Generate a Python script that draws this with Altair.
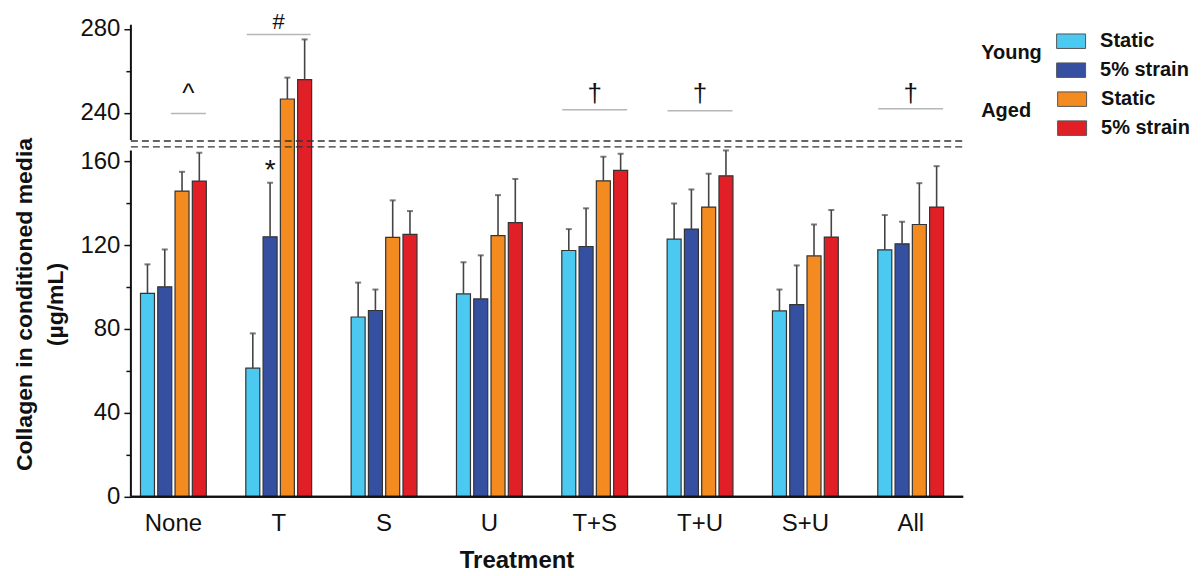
import altair as alt
import pandas as pd

# ---------------- data ----------------
GROUPS = ["None", "T", "S", "U", "T+S", "T+U", "S+U", "All"]
SERIES = ["Young Static", "Young 5% strain", "Aged Static", "Aged 5% strain"]
AGES = ["Young", "Young", "Aged", "Aged"]
STRAINS = ["Static", "5% strain", "Static", "5% strain"]

YOUNG_STATIC = [97.0, 61.3, 85.7, 96.7, 117.4, 122.8, 88.6, 117.7]
YOUNG_STATIC_SD = [13.8, 16.6, 16.4, 15.1, 10.2, 17.0, 10.2, 16.6]
YOUNG_STRAIN = [100.1, 123.9, 88.8, 94.3, 119.3, 127.6, 91.6, 120.6]
YOUNG_STRAIN_SD = [17.8, 25.8, 10.0, 20.8, 18.2, 18.9, 18.7, 10.5]
AGED_STATIC = [145.7, 246.6, 123.7, 124.5, 150.6, 138.1, 114.8, 129.8]
AGED_STATIC_SD = [9.2, 10.2, 17.6, 19.3, 11.5, 15.9, 15.0, 19.7]
AGED_STRAIN = [150.5, 255.8, 125.1, 130.7, 155.6, 153.0, 123.8, 138.1]
AGED_STRAIN_SD = [13.5, 19.2, 11.1, 20.8, 7.9, 12.1, 12.9, 19.5]

# broken y axis: lower 0..165, upper 227..282
LOWER_MAX = 165
UPPER_MIN = 227
UPPER_MAX = 282
GAP = 5
OFFSET = UPPER_MIN - LOWER_MAX - GAP  # 57
THRESH = 196
Y_TICKS = [0, 20, 40, 60, 80, 100, 120, 140, 160, 240, 260, 280]
BREAK_LINES = [LOWER_MAX + 1.8, LOWER_MAX + 4.6]

# significance annotations
HASH_GROUPS = ["T"]
HASH_LINE = [277.3]
HASH_TEXT = [283.2]
DAGGER_GROUPS = ["T+S", "T+U", "All"]
DAGGER_LINE = [241.5, 241.0, 242.0]
DAGGER_TEXT = [249.2, 249.2, 249.2]
CARET_GROUPS = ["None"]
CARET_LINE = [239.7]
CARET_TEXT = [248.8]
STAR_GROUPS = ["T"]
STAR_SERIES = ["Young 5% strain"]
STAR_TEXT = [155.5]

LIGHT_BLUE = "#4CC9F1"
DARK_BLUE = "#3550A1"
ORANGE = "#F48B20"
RED = "#E11F27"
FONT = "Liberation Sans"


def disp(v):
    return v - OFFSET if v > THRESH else v


# ---------------- tables ----------------
rows = []
means = [YOUNG_STATIC, YOUNG_STRAIN, AGED_STATIC, AGED_STRAIN]
sds = [YOUNG_STATIC_SD, YOUNG_STRAIN_SD, AGED_STATIC_SD, AGED_STRAIN_SD]
for s, age, strain, m, sd in zip(SERIES, AGES, STRAINS, means, sds):
    for g, mv, sv in zip(GROUPS, m, sd):
        rows.append(dict(group=g, series=s, age=age, strain=strain,
                         d_mean=disp(mv), d_top=disp(mv + sv)))
bars = pd.DataFrame(rows)

axis_seg = pd.DataFrame({"d0": [disp(0), disp(UPPER_MIN)],
                         "d1": [disp(LOWER_MAX), disp(UPPER_MAX)]})
breaks = pd.DataFrame({"d": BREAK_LINES})
hash_df = pd.DataFrame({"group": HASH_GROUPS, "line": [disp(v) for v in HASH_LINE],
                        "txt": [disp(v) for v in HASH_TEXT]})
dag_df = pd.DataFrame({"group": DAGGER_GROUPS, "line": [disp(v) for v in DAGGER_LINE],
                       "txt": [disp(v) for v in DAGGER_TEXT]})
car_df = pd.DataFrame({"group": CARET_GROUPS, "line": [disp(v) for v in CARET_LINE],
                       "txt": [disp(v) for v in CARET_TEXT]})
star_df = pd.DataFrame({"group": STAR_GROUPS, "series": STAR_SERIES,
                        "txt": [disp(v) for v in STAR_TEXT]})

# ---------------- scales & axes ----------------
D_TOP = 228.1
yscale = alt.Scale(domain=[0, D_TOP], nice=False, zero=True)
xscale = alt.Scale(domain=GROUPS, paddingInner=0.375, paddingOuter=0.091)
xoff_scale = alt.Scale(domain=SERIES, paddingInner=0.19, paddingOuter=0)

map_expr = f"(datum.value > 168 ? datum.value + {OFFSET} : datum.value)"
y_axis = alt.Axis(
    values=[disp(v) for v in Y_TICKS],
    labelExpr=f"({map_expr} % 40 == 0) ? format({map_expr}, 'd') : ''",
    domain=False, grid=False,
    tickSize={"condition": {"test": f"{map_expr} % 40 == 0", "value": 7}, "value": 5},
    tickColor="#111", tickWidth=1.5,
    labelFont=FONT, labelFontSize=24, labelColor="#111", labelPadding=4,
    title=["Collagen in conditioned media", "(µg/mL)"],
    titleFont=FONT, titleFontSize=23, titleFontWeight="bold", titleColor="#111",
    titleAngle=-90, titleX=-106, titleY=286, titleAlign="center",
    titleBaseline="middle", titleLineHeight=31,
)
x_axis = alt.Axis(
    domain=False, ticks=False, labelAngle=0,
    labelFont=FONT, labelFontSize=24, labelColor="#111", labelPadding=15,
    title="Treatment", titleFont=FONT, titleFontSize=24, titleFontWeight="bold",
    titleColor="#111", titleX=386, titleY=52, titleBaseline="top",
)


def X():
    return alt.X("group:N", scale=xscale, axis=x_axis, sort=GROUPS)


def Y(field):
    return alt.Y(field, scale=yscale, axis=y_axis)


def XO():
    return alt.XOffset("series:N", scale=xoff_scale)


PATH = "M-1,-0.5H1V0.5H-1Z"


def legend(title, pad, ly):
    return alt.Legend(
        title=title, titleOrient="left", titleFont=FONT, titleFontSize=20,
        titleFontWeight="bold", titleColor="#111", titlePadding=pad,
        titleAnchor="middle", titleBaseline="middle",
        labelFont=FONT, labelFontSize=20, labelFontWeight="bold", labelColor="#111",
        labelOffset=14, symbolType=PATH, symbolSize=841, symbolStrokeColor="#555",
        symbolStrokeWidth=1, symbolOpacity=1, rowPadding=4, padding=0,
        orient="none", legendX=851, legendY=ly,
    )


base = alt.Chart(bars)

young = base.transform_filter("datum.age == 'Young'").mark_bar(
    stroke="#333", strokeWidth=1.2
).encode(
    x=X(), xOffset=XO(), y=Y("d_mean:Q"),
    color=alt.Color("strain:N", scale=alt.Scale(domain=["Static", "5% strain"],
                                                range=[LIGHT_BLUE, DARK_BLUE]),
                    legend=legend("Young", 14, 8)),
)

aged = base.transform_filter("datum.age == 'Aged'").mark_bar(
    stroke="#333", strokeWidth=1.2
).encode(
    x=X(), xOffset=XO(), y=Y("d_mean:Q"),
    color=alt.Color("strain:N", scale=alt.Scale(domain=["Static", "5% strain"],
                                                range=[ORANGE, RED]),
                    legend=legend("Aged", 26, 66)),
)

err = base.mark_rule(color="#444", strokeWidth=1.6).encode(
    x=X(), xOffset=XO(), y=Y("d_mean:Q"), y2="d_top:Q",
)
caps = base.mark_tick(color="#444", size=6, thickness=2).encode(
    x=X(), xOffset=XO(), y=Y("d_top:Q"),
)

# axis lines (broken y axis)
yline = alt.Chart(axis_seg).mark_rule(color="#111", strokeWidth=2).encode(
    x=alt.value(0), y=Y("d0:Q"), y2="d1:Q")
xline = alt.Chart(axis_seg).mark_rule(color="#111", strokeWidth=2).encode(
    x=alt.value(0), x2=alt.value(833), y=alt.datum(0))
dashed = alt.Chart(breaks).mark_rule(color="#333", strokeWidth=1.4,
                                     strokeDash=[7, 4]).encode(
    x=alt.value(0), x2=alt.value(833), y=Y("d:Q"))


def sig(df, size, length, sym, xoff=0):
    ln = alt.Chart(df).mark_tick(color="#999", size=length, thickness=1.5,
                                 xOffset=xoff).encode(x=X(), y=Y("line:Q"))
    tx = alt.Chart(df).mark_text(text=sym, font=FONT, fontSize=size, color="#111",
                                 baseline="middle", xOffset=xoff).encode(
        x=X(), y=Y("txt:Q"))
    return ln + tx


star = alt.Chart(star_df).mark_text(text="*", font=FONT, fontSize=28, color="#111",
                                    baseline="middle").encode(
    x=X(), xOffset=XO(), y=Y("txt:Q"))

chart = alt.layer(
    young, aged, err, caps, yline, xline, dashed,
    sig(hash_df, 22, 64, "#"), sig(dag_df, 26, 65, "†"),
    sig(car_df, 26, 35, "^", 15), star,
).resolve_scale(color="independent").properties(
    width=823, height=479, background="white",
    autosize=alt.AutoSizeParams(type="none"),
    padding={"left": 123, "top": 10, "right": 240, "bottom": 75},
).configure_view(stroke=None)

chart.save("out.html", embed_options={"renderer": "svg", "actions": False})
